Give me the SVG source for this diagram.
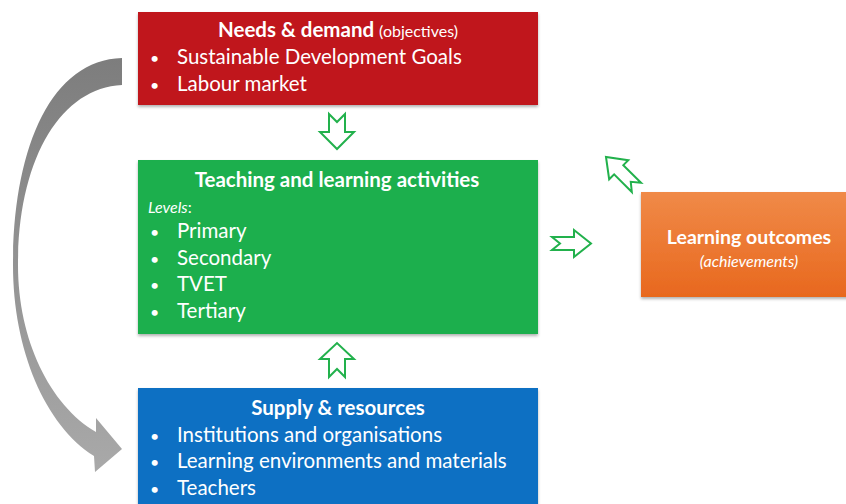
<svg xmlns="http://www.w3.org/2000/svg" width="846" height="504" viewBox="0 0 846 504">
<defs>
<style>
text{font-family:Lato,"Liberation Sans",sans-serif;fill:#fff}
.t{font-size:20.5px;font-weight:bold;text-anchor:middle}
.b{font-size:20.5px}
.d{font-size:16px}
.s{font-size:16px}
.i{font-style:italic;font-size:16px}
.ha{fill:#fff;stroke:#22b14c;stroke-width:2;stroke-linejoin:miter}
</style>
<linearGradient id="gray" x1="0" y1="0" x2="0" y2="1">
<stop offset="0" stop-color="#7d7d7d"/>
<stop offset="1" stop-color="#a9a9a9"/>
</linearGradient>
<linearGradient id="org" x1="0" y1="0" x2="0" y2="1">
<stop offset="0" stop-color="#f08a48"/>
<stop offset="1" stop-color="#e8681e"/>
</linearGradient>
<filter id="sh" x="-5%" y="-5%" width="110%" height="115%">
<feDropShadow dx="0" dy="2" stdDeviation="1.5" flood-color="#000" flood-opacity="0.3"/>
</filter>
</defs>
<rect width="846" height="504" fill="#fff"/>

<g id="connectors">
<path d="M122,58 C50,60 13,150 13,265 C13,350 45,425 94,456 L95,472 L122,449 L96,418 L96,432 C50,405 18,340 18,265 C18,160 60,88 122,85 Z" fill="url(#gray)"/>
<path class="ha" d="M329,114 L337,122 L345,114 L345,132 L354,132 L337,149 L320,132 L329,132 Z"/>
<path class="ha" d="M329,377 L337,369 L345,377 L345,359 L354,359 L337,343 L320,359 L329,359 Z"/>
<path class="ha" d="M552,237 L574,237 L574,230 L591,243.5 L574,257 L574,250 L552,250 L560,243.5 Z"/>
<path class="ha" transform="translate(606,157) rotate(225)" d="M0,0 L-18,-13.5 L-18,-6.5 L-43,-6.5 L-35,0 L-43,6.5 L-18,6.5 L-18,13.5 Z"/>
</g>

<g id="needs">
<rect x="138" y="12" width="400" height="93" fill="#c0161a" filter="url(#sh)"/>
<text x="338" y="37" class="t">Needs &amp; demand <tspan class="s" font-weight="normal">(objectives)</tspan></text>
<text x="150" y="64" class="d">•</text><text x="177" y="64" class="b">Sustainable Development Goals</text>
<text x="150" y="91" class="d">•</text><text x="177" y="91" class="b">Labour market</text>
</g>

<g id="teaching">
<rect x="138" y="160" width="400" height="174" fill="#1aaf4d" filter="url(#sh)"/>
<text x="337" y="187" class="t">Teaching and learning activities</text>
<text x="148" y="213" class="i">Levels<tspan font-style="normal">:</tspan></text>
<text x="150" y="238" class="d">•</text><text x="177" y="238" class="b">Primary</text>
<text x="150" y="265" class="d">•</text><text x="177" y="265" class="b">Secondary</text>
<text x="150" y="291" class="d">•</text><text x="177" y="291" class="b">TVET</text>
<text x="150" y="318" class="d">•</text><text x="177" y="318" class="b">Tertiary</text>
</g>

<g id="supply">
<rect x="138" y="388" width="400" height="130" fill="#0e6fc3" filter="url(#sh)"/>
<text x="338" y="415" class="t">Supply &amp; resources</text>
<text x="150" y="442" class="d">•</text><text x="177" y="442" class="b">Institutions and organisations</text>
<text x="150" y="468" class="d">•</text><text x="177" y="468" class="b">Learning environments and materials</text>
<text x="150" y="495" class="d">•</text><text x="177" y="495" class="b">Teachers</text>
</g>

<g id="outcomes">
<rect x="641" y="192" width="215" height="105" fill="url(#org)" filter="url(#sh)"/>
<text x="749" y="244" class="t" style="font-size:19.5px">Learning outcomes</text>
<text x="749" y="267" class="i" text-anchor="middle">(achievements)</text>
</g>
</svg>
